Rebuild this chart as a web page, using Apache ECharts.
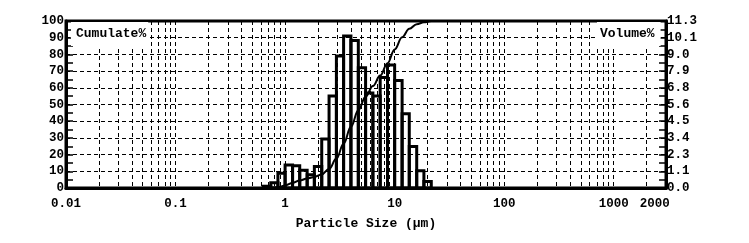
<!DOCTYPE html>
<html><head><meta charset="utf-8">
<script src="https://cdn.jsdelivr.net/npm/echarts@6/dist/echarts.min.js"></script>
<style>html,body{margin:0;padding:0;background:#fff}#c{width:749px;height:243px}</style>
</head><body><div id="c"></div>
<script>
// Histogram bins (µm) and Volume% values
const binLow  = [0.63,0.74,0.86,1.00,1.17,1.36,1.59,1.85,2.16,2.52,2.94,3.42,3.99,4.66,5.43,6.33,7.38,8.61,10.0,11.7,13.6,15.9,18.5];
const binHigh = [0.74,0.86,1.00,1.17,1.36,1.59,1.85,2.16,2.52,2.94,3.42,3.99,4.66,5.43,6.33,7.38,8.61,10.0,11.7,13.6,15.9,18.5,21.6];
const volume  = [0.12,0.36,1.00,1.55,1.50,1.20,0.90,1.45,3.30,6.20,8.90,10.25,9.95,8.10,6.40,6.20,7.45,8.30,7.25,5.00,2.80,1.17,0.43];
// Cumulative curve (Cumulate%)
const cumSize  = [0.63,0.74,0.86,1.00,1.17,1.36,1.59,1.85,2.16,2.52,2.94,3.42,3.99,4.66,5.43,6.33,7.38,8.61,10.0,11.7,13.6,15.9,18.5,21.6,3000];
const cumulate = [0,0.1,0.5,1.5,3.0,4.5,5.7,6.6,8.1,11.4,17.6,26.5,36.7,46.6,54.7,61.1,67.3,74.7,83.0,90.3,95.3,98.1,99.2,100,100];
// Axis labels
const xLabelValues = [0.01,0.1,1,10,100,1000,2000];
const xMin = 0.01, xMax = 3000;
const leftMax = 100, rightMax = 11.26, rightStep = 1.126;

const gridValues = [];
[0.01,0.1,1,10,100,1000].forEach(d => { for (let k = 1; k <= 9; k++) { const v = +(d*k).toPrecision(3); if (v <= 2000) gridValues.push(v); } });

const FONT = '"Liberation Mono", "DejaVu Sans Mono", monospace';
const bars = binLow.map((lo, i) => [lo, binHigh[i], volume[i]]);
const curve = cumSize.map((s, i) => [s, cumulate[i]]);

const chart = echarts.init(document.getElementById('c'), null, {renderer: 'canvas'});
chart.setOption({
  animation: false,
  backgroundColor: '#fff',
  grid: {left: 66, right: 83, top: 21, bottom: 55, show: true, borderColor: '#000', borderWidth: 3, backgroundColor: 'transparent'},
  xAxis: {
    type: 'log', min: xMin, max: xMax, logBase: 10,
    name: 'Particle Size (μm)', nameLocation: 'middle', nameGap: 29,
    nameTextStyle: {fontFamily: FONT, fontWeight: 'bold', fontSize: 13, color: '#000'},
    axisLine: {show: true, lineStyle: {color: '#000', width: 3}},
    axisTick: {show: false, customValues: gridValues},
    axisLabel: {
      customValues: xLabelValues, margin: 9, color: '#000', fontFamily: FONT, fontWeight: 'bold', fontSize: 12.5,
      formatter: v => v === 2000 ? '{r|2000}' : String(v),
      rich: {r: {padding: [0, 0, 0, 16], fontFamily: FONT, fontWeight: 'bold', fontSize: 12.5, color: '#000'}}
    },
    splitLine: {show: true, lineStyle: {color: '#000', width: 1, type: [4, 3]}}
  },
  yAxis: [{
    type: 'value', min: 0, max: leftMax, interval: 10, position: 'left',
    axisLine: {show: true, lineStyle: {color: '#000', width: 3}},
    axisTick: {show: true, inside: true, length: 7, lineStyle: {color: '#000', width: 1.5}},
    minorTick: {show: true, splitNumber: 2, length: 7, lineStyle: {color: '#000', width: 1.5}},
    axisLabel: {margin: 2, color: '#000', fontFamily: FONT, fontWeight: 'bold', fontSize: 12.5},
    splitLine: {show: true, lineStyle: {color: '#000', width: 1, type: [4, 3]}}
  }, {
    type: 'value', min: 0, max: rightMax, interval: rightStep, position: 'right',
    axisLine: {show: true, lineStyle: {color: '#000', width: 3}},
    axisTick: {show: true, inside: true, length: 7, lineStyle: {color: '#000', width: 1.5}},
    minorTick: {show: true, splitNumber: 2, length: 7, lineStyle: {color: '#000', width: 1.5}},
    axisLabel: {margin: 1, color: '#000', fontFamily: FONT, fontWeight: 'bold', fontSize: 12.5, formatter: v => v.toFixed(1)},
    splitLine: {show: false}
  }],
  graphic: [
    {type: 'text', z: 50, x: 71, y: 34, style: {text: 'Cumulate%', font: 'bold 13px ' + FONT, fill: '#000', verticalAlign: 'middle', backgroundColor: '#fff', padding: [6, 2, 5, 5]}},
    {type: 'text', z: 50, x: 597, y: 34, style: {text: 'Volume%', font: 'bold 13px ' + FONT, fill: '#000', verticalAlign: 'middle', backgroundColor: '#fff', padding: [6, 6, 5, 3]}}
  ],
  series: [{
    type: 'custom', yAxisIndex: 1, z: 3,
    encode: {x: [0, 1], y: 2},
    data: bars,
    renderItem: (params, api) => {
      const p0 = api.coord([api.value(0), api.value(2)]);
      const p1 = api.coord([api.value(1), 0]);
      return {type: 'rect', shape: {x: p0[0], y: p0[1], width: p1[0] - p0[0], height: p1[1] - p0[1]},
        style: {fill: 'none', stroke: '#000', lineWidth: 3}};
    }
  }, {
    type: 'line', yAxisIndex: 0, z: 4, data: curve, smooth: 0.4, smoothMonotone: 'x', showSymbol: false, symbol: 'none',
    lineStyle: {color: '#000', width: 2}
  }]
});
</script></body></html>
